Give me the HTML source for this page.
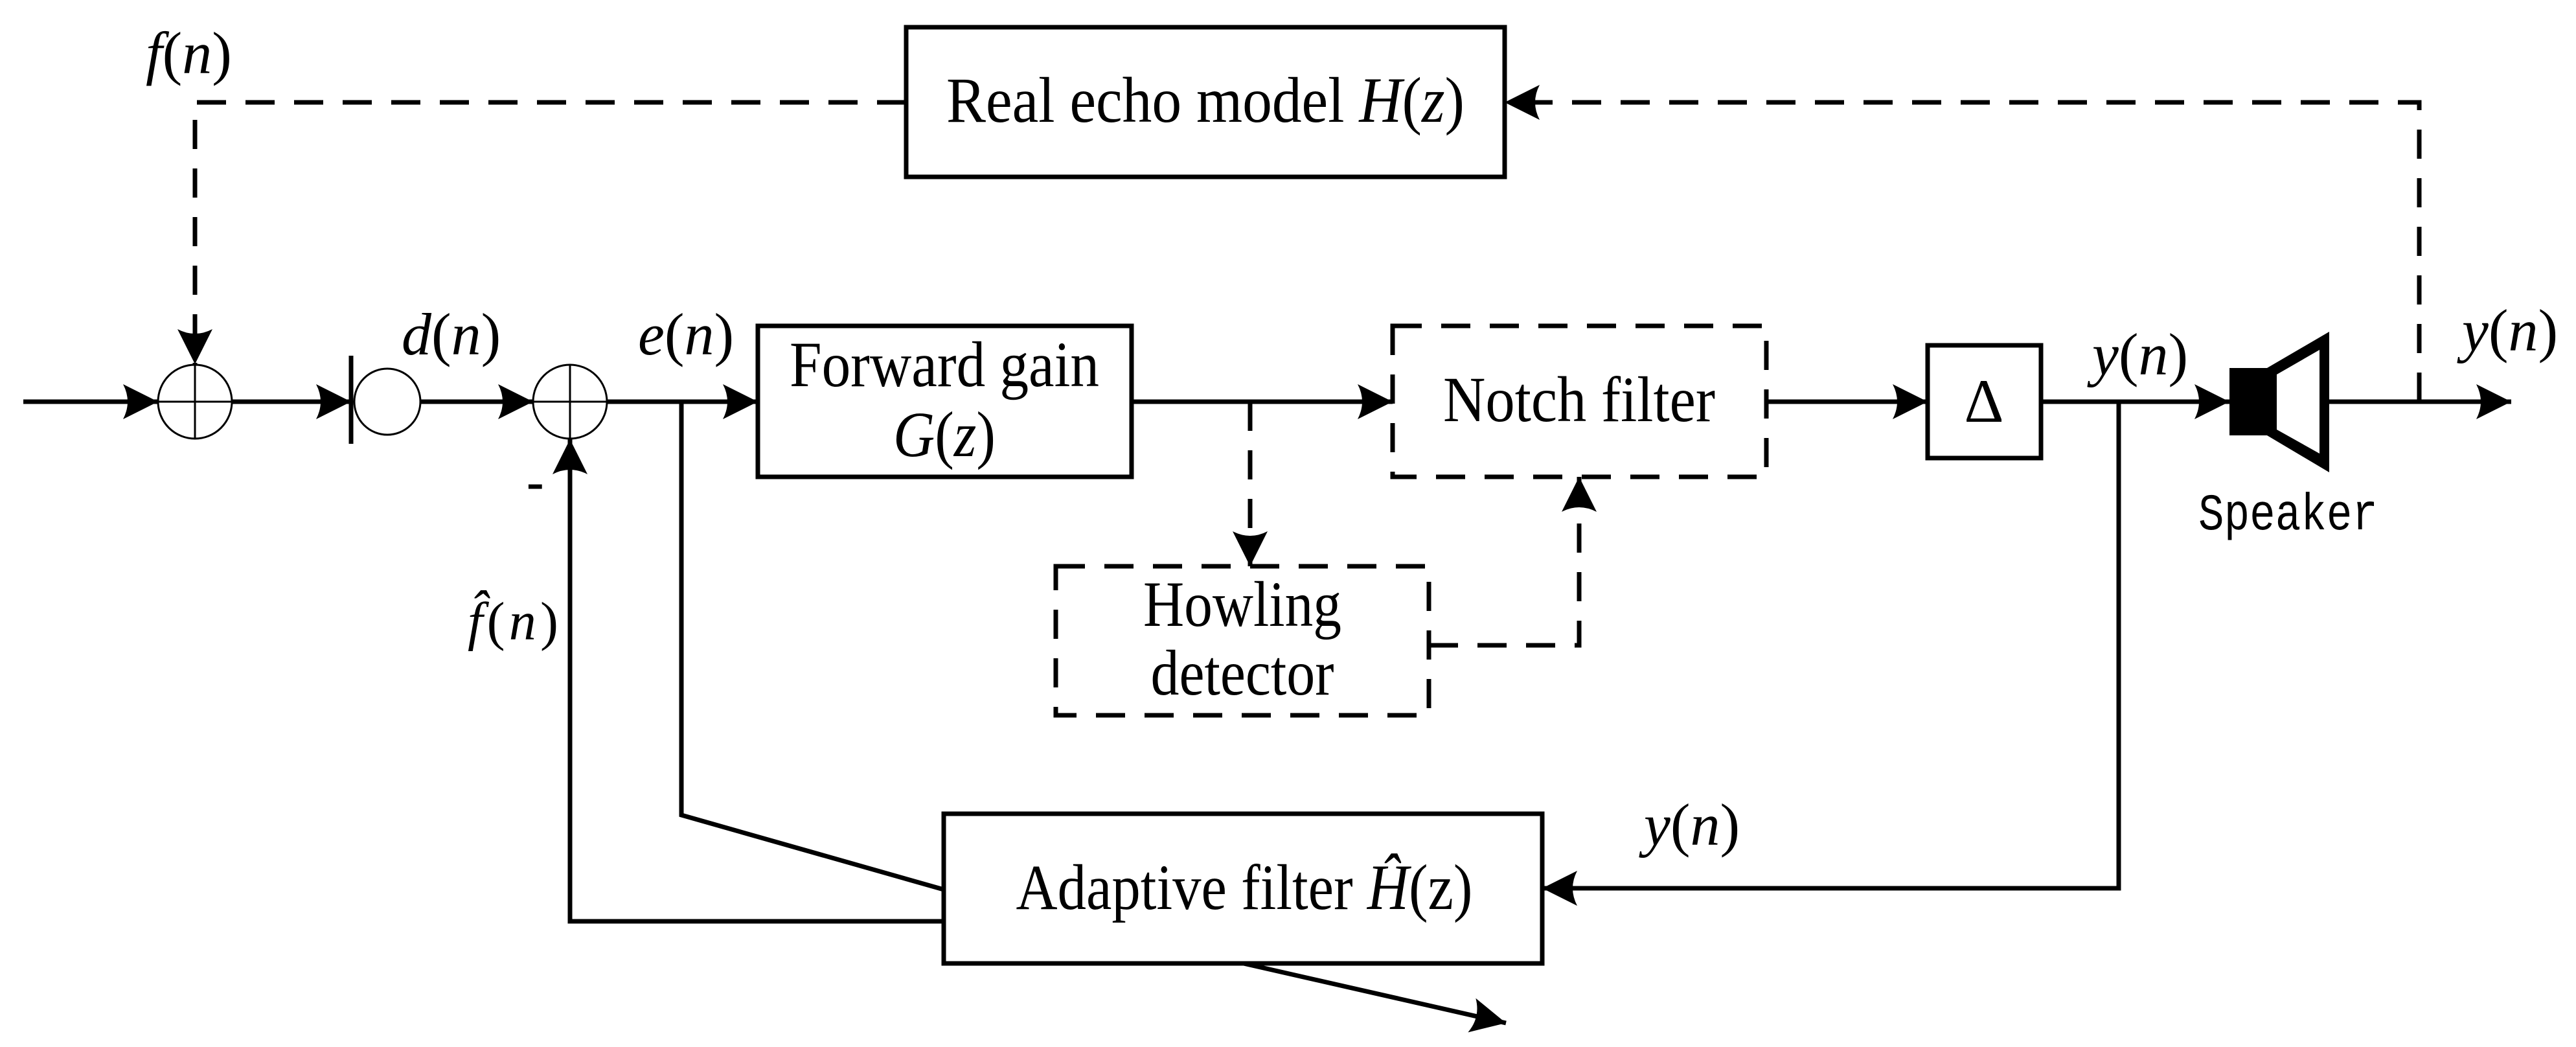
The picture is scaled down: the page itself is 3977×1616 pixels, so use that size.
<!DOCTYPE html>
<html><head><meta charset="utf-8"><style>html,body{margin:0;padding:0;background:#fff}svg{display:block}</style></head>
<body>
<svg width="3977" height="1616" viewBox="0 0 3977 1616" xmlns="http://www.w3.org/2000/svg" font-family="Liberation Serif, serif">
<defs>
<marker id="a" viewBox="0 0 54 54" refX="54" refY="27" markerWidth="54" markerHeight="54" markerUnits="userSpaceOnUse" orient="auto">
<path d="M0,0 L54,27 L0,54 Q14,27 0,0 Z" fill="#000"/>
</marker>
</defs>
<g stroke="#000" stroke-width="7" fill="none">
<line x1="36" y1="620" x2="244" y2="620" marker-end="url(#a)"/>
<line x1="358" y1="620" x2="542" y2="620" marker-end="url(#a)"/>
<line x1="649" y1="620" x2="823" y2="620" marker-end="url(#a)"/>
<line x1="937" y1="620" x2="1170" y2="620" marker-end="url(#a)"/>
<line x1="1747" y1="620" x2="2150" y2="620" marker-end="url(#a)"/>
<line x1="2727" y1="620" x2="2976" y2="620" marker-end="url(#a)"/>
<line x1="3151" y1="620" x2="3442" y2="620" marker-end="url(#a)"/>
<line x1="3596" y1="620" x2="3877" y2="620" marker-end="url(#a)"/>
<line x1="542" y1="549" x2="542" y2="685"/>
<polyline points="1052,620 1052,1258 1457,1373"/>
<polyline points="1457,1422 880,1422 880,678" marker-end="url(#a)"/>
<polyline points="3271,620 3271,1371 2381,1371" marker-end="url(#a)"/>
<line x1="1920" y1="1487" x2="2325" y2="1579" marker-end="url(#a)"/>
<rect x="1399" y="42" width="924" height="231"/>
<rect x="1170" y="503" width="577" height="233"/>
<rect x="2976" y="533" width="175" height="174"/>
<rect x="1457" y="1256" width="924" height="231"/>
</g>
<g stroke="#000" stroke-width="7" fill="none" stroke-dasharray="45,30">
<polyline points="1399,158 301,158 301,562" marker-end="url(#a)"/>
<polyline points="3735,620 3735,158 2323,158" marker-end="url(#a)"/>
<line x1="1930" y1="620" x2="1930" y2="874" marker-end="url(#a)"/>
<polyline points="2206,996 2438,996 2438,736" marker-end="url(#a)"/>
<rect x="2150" y="503" width="577" height="233"/>
<rect x="1630" y="874" width="576" height="230"/>
</g>
<g stroke="#000" stroke-width="3" fill="#fff">
<circle cx="301" cy="620" r="57"/>
<line x1="244" y1="620" x2="358" y2="620"/>
<line x1="301" y1="563" x2="301" y2="677"/>
<circle cx="598" cy="620" r="51"/>
<circle cx="880" cy="620" r="57"/>
<line x1="823" y1="620" x2="937" y2="620"/>
<line x1="880" y1="563" x2="880" y2="677"/>
</g>
<rect x="3442" y="568" width="58" height="104" fill="#000"/>
<path d="M3500,568 L3596,512 L3596,729 L3500,672 Z M3515,578 L3515,663 L3581,700 L3581,540 Z" fill="#000" fill-rule="evenodd"/>
<g font-size="100" fill="#000">
<text x="1861" y="188" text-anchor="middle" textLength="800" lengthAdjust="spacingAndGlyphs">Real echo model <tspan font-style="italic">H</tspan>(<tspan font-style="italic">z</tspan>)</text>
<text x="1458" y="596" text-anchor="middle" textLength="478" lengthAdjust="spacingAndGlyphs">Forward gain</text>
<text x="1458" y="704" text-anchor="middle" textLength="158" lengthAdjust="spacingAndGlyphs"><tspan font-style="italic">G</tspan>(<tspan font-style="italic">z</tspan>)</text>
<text x="2438" y="650" text-anchor="middle" textLength="420" lengthAdjust="spacingAndGlyphs">Notch filter</text>
<text x="1918" y="966" text-anchor="middle" textLength="306" lengthAdjust="spacingAndGlyphs">Howling</text>
<text x="1918" y="1072" text-anchor="middle" textLength="283" lengthAdjust="spacingAndGlyphs">detector</text>
<text x="3063" y="651" text-anchor="middle" font-size="95">Δ</text>
<text x="1921" y="1403" text-anchor="middle" textLength="705" lengthAdjust="spacingAndGlyphs">Adaptive filter <tspan font-style="italic">Ĥ</tspan>(z)</text>
</g>
<g font-size="92" fill="#000">
<text x="225" y="113"><tspan font-style="italic">f</tspan>(<tspan font-style="italic">n</tspan>)</text>
<text x="620" y="547"><tspan font-style="italic">d</tspan>(<tspan font-style="italic">n</tspan>)</text>
<text x="985" y="547"><tspan font-style="italic">e</tspan>(<tspan font-style="italic">n</tspan>)</text>
<text x="722" y="987" font-size="84" textLength="140" lengthAdjust="spacing"><tspan font-style="italic">f̂</tspan>(<tspan font-style="italic">n</tspan>)</text>
<text x="813" y="770" font-size="80" font-weight="bold">-</text>
<text x="3230" y="578"><tspan font-style="italic">y</tspan>(<tspan font-style="italic">n</tspan>)</text>
<text x="3801" y="541"><tspan font-style="italic">y</tspan>(<tspan font-style="italic">n</tspan>)</text>
<text x="2538" y="1304"><tspan font-style="italic">y</tspan>(<tspan font-style="italic">n</tspan>)</text>
</g>
<text x="3394" y="817" font-family="Liberation Mono, monospace" font-size="80" fill="#000" textLength="277" lengthAdjust="spacingAndGlyphs">Speaker</text>
</svg>
</body></html>
